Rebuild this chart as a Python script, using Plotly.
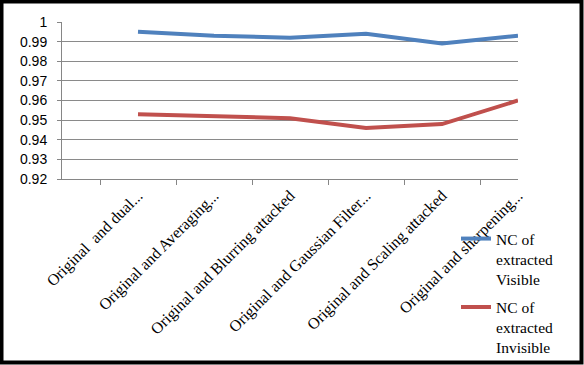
import plotly.graph_objects as go

categories = ["", "Original  and dual...", "Original and Averaging...", "Original and Blurring attacked",
              "Original and Gaussian Filter...", "Original and Scaling attacked", "Original and sharpening..."]
nc_visible = [None, 0.995, 0.993, 0.992, 0.994, 0.989, 0.993]
nc_invisible = [None, 0.953, 0.952, 0.951, 0.946, 0.948, 0.960]
series_names = ["NC of<br>extracted<br>Visible", "NC of<br>extracted<br>Invisible"]
colors = ["#4F81BD", "#C0504D"]

W, H = 584, 365
L, R, T, B = 62, 66, 22, 186

fig = go.Figure()
for i, (name, vals, c) in enumerate(zip(series_names, [nc_visible, nc_invisible], colors)):
    fig.add_trace(go.Scatter(x=categories, y=vals, name=name, mode="lines", legendgroup=f"g{i}",
                             line=dict(color=c, width=4), connectgaps=False))

pw, ph = W - L - R, H - T - B
fig.update_layout(
    width=W, height=H,
    margin=dict(l=L, r=R, t=T, b=B, autoexpand=False),
    paper_bgcolor="white", plot_bgcolor="white",
    xaxis=dict(type="category", tickangle=-45, tickson="boundaries", ticks="outside",
               ticklen=5, tickcolor="#868686", showline=True, linecolor="#868686", linewidth=1,
               showgrid=False, tickfont=dict(family="Liberation Serif", size=16, color="black"),
               automargin=False),
    yaxis=dict(range=[0.92, 1.0], dtick=0.01, tick0=0.92, showline=True, linecolor="#868686",
               linewidth=1, ticks="outside", ticklen=4, tickcolor="#868686",
               gridcolor="#8a8a8a", gridwidth=1, zeroline=False, ticklabelstandoff=7,
               tickfont=dict(family="Liberation Sans", size=14, color="black"),
               automargin=False),
    legend=dict(x=(456 - L) / pw, y=(T + ph - 222) / ph, xanchor="left", yanchor="top",
                font=dict(family="Liberation Serif", size=15.5, color="black"),
                valign="top", tracegroupgap=5, bgcolor="rgba(0,0,0,0)"),
    showlegend=True,
)
fig.add_shape(type="rect", xref="paper", yref="paper",
              x0=-(L - 1.5) / pw, x1=1 + (R - 2.5) / pw,
              y0=-(B - 2.5) / ph, y1=1 + (T - 1.5) / ph,
              line=dict(color="black", width=4), layer="above")
fig.write_html("out.html", config={"displayModeBar": False},
               post_script="document.body.style.margin='0';document.body.style.overflow='hidden';")
